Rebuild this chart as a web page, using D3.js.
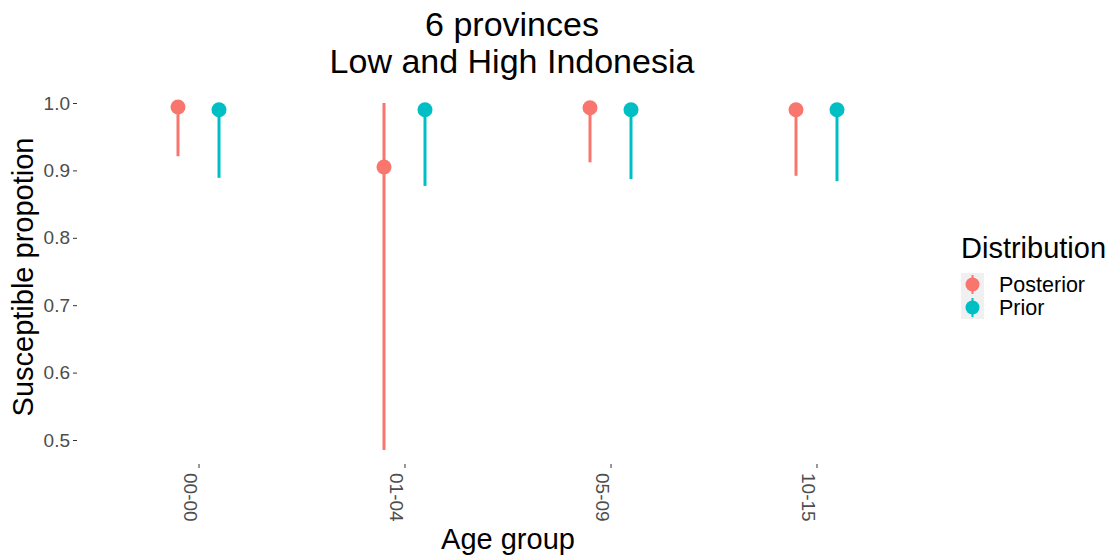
<!DOCTYPE html>
<html>
<head>
<meta charset="utf-8">
<script src="https://cdn.jsdelivr.net/npm/d3@7"></script>
<style>
  body { margin: 0; background: #fff; }
  svg { font-family: "Liberation Sans", Arial, sans-serif; }
</style>
</head>
<body>
<svg id="graph" width="1110" height="556"></svg>
<script>
// Data
var ageGroups = ['00-00', '01-04', '05-09', '10-15'];
var distributions = ['Posterior', 'Prior'];
var posteriorMid = [0.994, 0.905, 0.993, 0.990];
var posteriorLow = [0.921, 0.485, 0.912, 0.892];
var posteriorHigh = [1.0, 1.0, 1.0, 1.0];
var priorMid = [0.990, 0.990, 0.990, 0.990];
var priorLow = [0.889, 0.877, 0.887, 0.884];
var priorHigh = [0.997, 0.997, 0.997, 0.997];
var yTicks = [0.5, 0.6, 0.7, 0.8, 0.9, 1.0];

var colors = { Posterior: '#F8766D', Prior: '#00BFC4' };

var rows = [];
ageGroups.forEach(function(g, i){
  rows.push({ group: g, dist: 'Posterior', mid: posteriorMid[i], lo: posteriorLow[i], hi: posteriorHigh[i] });
  rows.push({ group: g, dist: 'Prior', mid: priorMid[i], lo: priorLow[i], hi: priorHigh[i] });
});

var svg = d3.select('#graph');

var xScale = d3.scalePoint().domain(ageGroups).range([198.5, 816.5]);
var dodge = d3.scalePoint().domain(distributions).range([-20.5, 20.5]);
var yScale = d3.scaleLinear().domain([0.5, 1.0]).range([440, 103]);

// Title
var title = svg.append('text').attr('text-anchor', 'middle')
  .style('font-size', '34px').style('fill', '#000');
title.append('tspan').attr('x', 512).attr('y', 36).text('6 provinces');
title.append('tspan').attr('x', 512).attr('y', 73).text('Low and High Indonesia');

// Y axis
var yAxis = svg.append('g').attr('transform', 'translate(77,0)')
  .call(d3.axisLeft(yScale).tickValues(yTicks).tickFormat(d3.format('.1f')).tickSize(4).tickPadding(3));
yAxis.select('.domain').remove();
yAxis.selectAll('line').style('stroke', '#333').style('stroke-width', 1);
yAxis.selectAll('text').style('font-size', '19px').style('fill', '#4d4d4d')
  .style('font-family', '"Liberation Sans", Arial, sans-serif');

// X axis
var xAxis = svg.append('g').attr('transform', 'translate(0,464)')
  .call(d3.axisBottom(xScale).tickSize(4).tickPadding(0));
xAxis.select('.domain').remove();
xAxis.selectAll('line').style('stroke', '#333').style('stroke-width', 1);
xAxis.selectAll('text')
  .attr('transform', 'translate(-8,9) rotate(90)')
  .attr('x', 0).attr('y', 0).attr('dy', '0.35em')
  .style('text-anchor', 'start')
  .style('font-size', '19px').style('fill', '#4d4d4d')
  .style('font-family', '"Liberation Sans", Arial, sans-serif');

// Axis titles
svg.append('text').attr('x', 508).attr('y', 549).attr('text-anchor', 'middle')
  .style('font-size', '29px').text('Age group');
svg.append('text').attr('transform', 'translate(33,277) rotate(-90)').attr('text-anchor', 'middle')
  .style('font-size', '29px').text('Susceptible propotion');

// Point ranges
var marks = svg.append('g');
marks.selectAll('line.range').data(rows).enter().append('line')
  .attr('class', 'range')
  .attr('x1', d => xScale(d.group) + dodge(d.dist))
  .attr('x2', d => xScale(d.group) + dodge(d.dist))
  .attr('y1', d => yScale(d.hi))
  .attr('y2', d => yScale(d.lo))
  .style('stroke', d => colors[d.dist]).style('stroke-width', 3);
marks.selectAll('circle.mid').data(rows).enter().append('circle')
  .attr('class', 'mid')
  .attr('cx', d => xScale(d.group) + dodge(d.dist))
  .attr('cy', d => yScale(d.mid))
  .attr('r', 7.5)
  .style('fill', d => colors[d.dist]);

// Legend
var legend = svg.append('g').attr('transform', 'translate(961,0)');
legend.append('text').attr('x', 0).attr('y', 258).style('font-size', '29px').text('Distribution');
distributions.forEach(function(dist, i){
  var y0 = 273 + i * 23;
  legend.append('rect').attr('x', 0).attr('y', y0).attr('width', 23).attr('height', 23).style('fill', '#f0f0f0');
  legend.append('line').attr('x1', 11.5).attr('x2', 11.5).attr('y1', y0 + 2).attr('y2', y0 + 21)
    .style('stroke', colors[dist]).style('stroke-width', 2);
  legend.append('circle').attr('cx', 11.5).attr('cy', y0 + 11.5).attr('r', 7).style('fill', colors[dist]);
  legend.append('text').attr('x', 38).attr('y', y0 + 19).style('font-size', '21.5px').text(dist);
});
</script>
</body>
</html>
